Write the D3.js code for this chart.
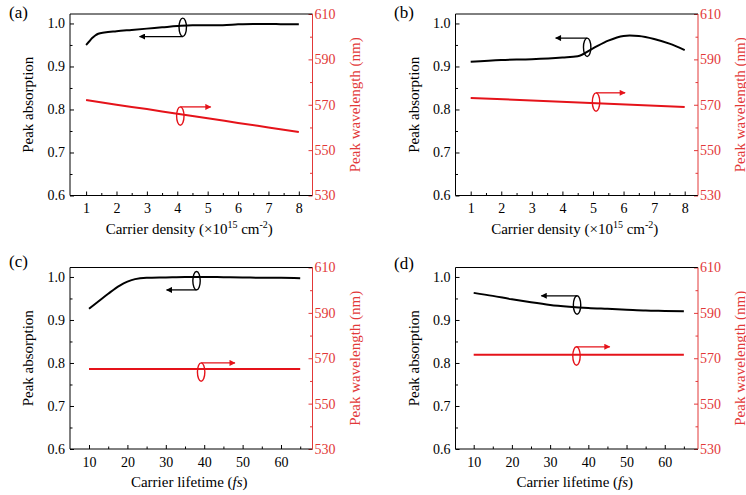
<!DOCTYPE html>
<html>
<head>
<meta charset="utf-8">
<script src="https://cdn.jsdelivr.net/npm/d3@7"></script>
<style>
html,body{margin:0;padding:0;background:#fff;}
svg{display:block;}
svg text{font-family:"Liberation Serif","Times New Roman","DejaVu Serif",serif;}
</style>
</head>
<body>
<svg id="chart" width="746" height="495"></svg>
<script>
// ---------- data ----------
const densityA = [1,1.1,1.2,1.3,1.4,1.6,2,2.5,3,3.5,4,4.5,5,5.5,6,6.5,7,7.5,8];
const absorptionA = [0.950,0.958,0.966,0.972,0.976,0.979,0.982,0.985,0.988,0.991,0.994,0.996,0.996,0.996,0.998,0.999,0.999,0.998,0.998];
const wlDensityA = [1,2,3,4,5,6,7,8];
const wavelengthA = [572.1,570.0,568.1,566.0,564.1,562.0,560.0,558.0];

const densityB = [1,2,3,4,4.5,5,5.5,6,6.2,6.5,7,7.5,8];
const absorptionB = [0.911,0.915,0.917,0.921,0.924,0.942,0.960,0.971,0.972,0.971,0.964,0.953,0.938];
const wlDensityB = [1,8];
const wavelengthB = [573.0,569.0];

const lifetimeC = [10,12,15,18,20,22,25,30,35,40,45,50,55,60,65];
const absorptionC = [0.926,0.940,0.961,0.980,0.989,0.995,0.998,0.999,1.000,1.000,0.9995,0.999,0.998,0.998,0.997];
const wlLifetimeC = [10,65];
const wavelengthC = [565.3,565.3];

const lifetimeD = [10,15,20,25,30,35,40,45,50,55,60,65];
const absorptionD = [0.963,0.956,0.948,0.941,0.935,0.931,0.928,0.926,0.924,0.922,0.921,0.920];
const wlLifetimeD = [10,65];
const wavelengthD = [571.5,571.5];

const densityTicks = [1,2,3,4,5,6,7,8];
const densityMinor = [1.5,2.5,3.5,4.5,5.5,6.5,7.5];
const lifetimeTicks = [10,20,30,40,50,60];
const lifetimeMinor = [15,25,35,45,55,65];
const absTicks = [0.6,0.7,0.8,0.9,1.0];
const absMinor = [0.65,0.75,0.85,0.95];
const wlTicks = [530,550,570,590,610];
const wlMinor = [540,560,580,600];

// annotation markers (data coordinates): ellipse centre, arrow target x, arrow side
const markA = {bx:4.18, by:0.991, bTo:2.76, bSide:"bottom", rx:4.10, ry:565.0, rTo:5.10};
const markB = {bx:4.81, by:0.9446, bTo:3.78, bSide:"top", rx:5.10, ry:571.2, rTo:6.05};
const markC = {bx:38.0, by:0.9913, bTo:30.2, bSide:"bottom", rx:39.2, ry:563.9, rTo:48.0};
const markD = {bx:37.05, by:0.9348, bTo:27.7, bSide:"top", rx:36.9, ry:571.0, rTo:45.6};

// ---------- layout ----------
const FONT = "'Liberation Serif','Times New Roman','DejaVu Serif',serif";
const RED_LINE = "#e5131a";
const RED_AXIS = "#e23838";
const W = 242.5, H = 181.5;
const panels = [
  {label:"(a)", lx:9, ly:18, ox:70, oy:14, xd:[0.47,8.45], xs:densityA, ys:absorptionA, wx:wlDensityA, wy:wavelengthA, major:densityTicks, minor:densityMinor, title:"density", mark:markA},
  {label:"(b)", lx:394, ly:18, ox:455.5, oy:14, xd:[0.503,8.435], xs:densityB, ys:absorptionB, wx:wlDensityB, wy:wavelengthB, major:densityTicks, minor:densityMinor, title:"density", mark:markB},
  {label:"(c)", lx:9, ly:267, ox:70, oy:267.5, xd:[5.05,68.2], xs:lifetimeC, ys:absorptionC, wx:wlLifetimeC, wy:wavelengthC, major:lifetimeTicks, minor:lifetimeMinor, title:"lifetime", mark:markC},
  {label:"(d)", lx:394, ly:269, ox:455.5, oy:267.5, xd:[5.24,68.7], xs:lifetimeD, ys:absorptionD, wx:wlLifetimeD, wy:wavelengthD, major:lifetimeTicks, minor:lifetimeMinor, title:"lifetime", mark:markD}
];

const svg = d3.select("#chart").attr("font-family",FONT);
const defs = svg.append("defs");
function marker(id, color){
  defs.append("marker").attr("id",id).attr("viewBox","0 0 10 10").attr("refX",9).attr("refY",5)
    .attr("markerWidth",9).attr("markerHeight",6).attr("markerUnits","userSpaceOnUse").attr("orient","auto")
    .append("path").attr("d","M0,0 L10,5 L0,10 z").attr("fill",color);
}
marker("arrBlack","#000");
marker("arrRed",RED_LINE);

panels.forEach(p => {
  const x = d3.scaleLinear().domain(p.xd).range([0,W]);
  const yL = d3.scaleLinear().domain([0.6,1.022]).range([H,0]);
  const yR = d3.scaleLinear().domain([530,610]).range([H,0]);
  const g = svg.append("g").attr("transform",`translate(${p.ox},${p.oy})`);

  svg.append("text").attr("x",p.lx).attr("y",p.ly).attr("font-size",17).attr("font-family",FONT).text(p.label);

  // axes
  const styleAxis = (sel,color) => {
    sel.attr("font-family",FONT).attr("font-size",14);
    sel.select(".domain").remove();
    sel.selectAll("line").attr("stroke",color);
    sel.selectAll("text").attr("fill",color).attr("font-family",FONT).attr("font-size",14);
  };
  g.append("g").attr("transform",`translate(0,${H})`)
    .call(d3.axisBottom(x).tickValues(p.major).tickFormat(d3.format("d")).tickSize(-4).tickPadding(8))
    .call(s=>styleAxis(s,"#000"));
  g.append("g").attr("transform",`translate(0,${H})`)
    .call(d3.axisBottom(x).tickValues(p.minor).tickFormat("").tickSize(-2.5))
    .call(s=>styleAxis(s,"#000"));
  g.append("g")
    .call(d3.axisLeft(yL).tickValues(absTicks).tickFormat(d3.format(".1f")).tickSize(-4).tickPadding(5))
    .call(s=>styleAxis(s,"#000"));
  g.append("g")
    .call(d3.axisLeft(yL).tickValues(absMinor).tickFormat("").tickSize(-2.5))
    .call(s=>styleAxis(s,"#000"));
  g.append("g").attr("transform",`translate(${W},0)`)
    .call(d3.axisRight(yR).tickValues(wlTicks).tickFormat(d3.format("d")).tickSize(-4).tickPadding(2))
    .call(s=>styleAxis(s,RED_AXIS));
  g.append("g").attr("transform",`translate(${W},0)`)
    .call(d3.axisRight(yR).tickValues(wlMinor).tickFormat("").tickSize(-2.5))
    .call(s=>styleAxis(s,RED_AXIS));

  // frame
  g.append("path").attr("d",`M${W},0 H0 V${H} H${W}`).attr("fill","none").attr("stroke","#000").attr("stroke-width",1);
  g.append("line").attr("x1",W).attr("x2",W).attr("y1",0).attr("y2",H).attr("stroke",RED_AXIS).attr("stroke-width",1);

  // lines
  const lineL = d3.line().x(d=>x(d[0])).y(d=>yL(d[1])).curve(d3.curveMonotoneX);
  const lineR = d3.line().x(d=>x(d[0])).y(d=>yR(d[1])).curve(d3.curveMonotoneX);
  g.append("path").datum(d3.zip(p.xs,p.ys)).attr("d",lineL).attr("fill","none").attr("stroke","#000").attr("stroke-width",2);
  g.append("path").datum(d3.zip(p.wx,p.wy)).attr("d",lineR).attr("fill","none").attr("stroke",RED_LINE).attr("stroke-width",2);

  // annotations
  const m = p.mark, erx = 3.7, ery = 9.2;
  const bcx = x(m.bx), bcy = yL(m.by);
  g.append("ellipse").attr("cx",bcx).attr("cy",bcy).attr("rx",erx).attr("ry",ery).attr("fill","none").attr("stroke","#000").attr("stroke-width",1.4);
  const bay = m.bSide==="top" ? bcy-ery : bcy+ery;
  g.append("line").attr("x1",bcx).attr("y1",bay).attr("x2",x(m.bTo)).attr("y2",bay)
    .attr("stroke","#000").attr("stroke-width",1.3).attr("marker-end","url(#arrBlack)");
  const rcx = x(m.rx), rcy = yR(m.ry);
  g.append("ellipse").attr("cx",rcx).attr("cy",rcy).attr("rx",erx).attr("ry",ery).attr("fill","none").attr("stroke",RED_LINE).attr("stroke-width",1.4);
  g.append("line").attr("x1",rcx).attr("y1",rcy-ery).attr("x2",x(m.rTo)).attr("y2",rcy-ery)
    .attr("stroke",RED_LINE).attr("stroke-width",1.3).attr("marker-end","url(#arrRed)");

  // axis titles
  g.append("text").attr("transform",`translate(${-42},${H/2}) rotate(-90)`).attr("text-anchor","middle")
    .attr("dy","0.35em").attr("font-size",15).attr("font-family",FONT).text("Peak absorption");
  g.append("text").attr("transform",`translate(${W+42},${H/2}) rotate(-90)`).attr("text-anchor","middle")
    .attr("dy","0.35em").attr("font-size",15).attr("font-family",FONT).attr("fill",RED_AXIS).text("Peak wavelength (nm)");
  const xt = g.append("text").attr("x",W/2 - 2).attr("y",H+38).attr("text-anchor","middle").attr("font-size",15).attr("font-family",FONT);
  if (p.title==="density") {
    xt.append("tspan").text("Carrier density (×10");
    xt.append("tspan").attr("font-size",10).attr("dy",-6).text("15");
    xt.append("tspan").attr("dy",6).text(" cm");
    xt.append("tspan").attr("font-size",10).attr("dy",-6).text("-2");
    xt.append("tspan").attr("dy",6).text(")");
  } else {
    xt.append("tspan").text("Carrier lifetime (");
    xt.append("tspan").attr("font-style","italic").text("fs");
    xt.append("tspan").text(")");
  }
});
</script>
</body>
</html>
